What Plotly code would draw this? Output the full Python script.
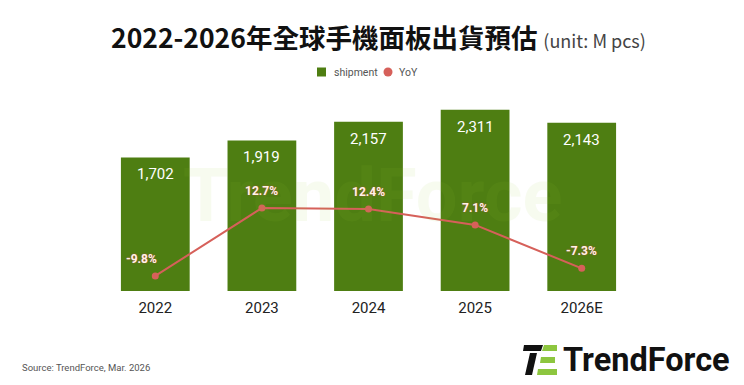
import plotly.graph_objects as go

years = ["2022", "2023", "2024", "2025", "2026E"]
shipment = [1702, 1919, 2157, 2311, 2143]
yoy = [-9.8, 12.7, 12.4, 7.1, -7.3]
shipment_labels = ["1,702", "1,919", "2,157", "2,311", "2,143"]
yoy_labels = ["-9.8%", "12.7%", "12.4%", "7.1%", "-7.3%"]
yoy_label_xshift = [-14, 0, 0, 0, 0]   # label placement (style)

# page is offset by the browser's 8px body margin
OFF = 8
PAGE_W, PAGE_H = 744, 385
W, H = PAGE_W - 2 * OFF, PAGE_H - 2 * OFF
PL, PR, PT, PB = 102, 635, 87, 291          # plot area in page pixels
ML, MR, MT, MB = PL - OFF, OFF + W - PR, PT - OFF, OFF + H - PB
PW, PH = PR - PL, PB - PT

def px(x):
    return (x - PL) / PW

def py(y):
    return (PB - y) / PH

BAR = "#4E7E12"
RED = "#D6605A"

fig = go.Figure()
fig.add_trace(go.Bar(
    x=years, y=shipment, name="shipment", marker=dict(color=BAR, line=dict(width=0)),
    hoverinfo="skip", showlegend=False))
fig.add_trace(go.Scatter(
    x=years, y=yoy, yaxis="y2", mode="lines+markers", name="YoY", showlegend=False,
    line=dict(color=RED, width=2), marker=dict(color=RED, size=7)))

annotations = []
# watermark (drawn first so labels sit over it)
annotations.append(dict(
    x=px(372), y=py(195), xref="paper", yref="paper", showarrow=False,
    text="<b>TrendForce</b>", opacity=0.07,
    font=dict(family="Roboto", size=74, color="#9acd32")))
for i, (v, t) in enumerate(zip(shipment, shipment_labels)):
    annotations.append(dict(x=i, y=v, xref="x", yref="y", text=t, showarrow=False,
                            yanchor="top", yshift=-6,
                            font=dict(family="Roboto", size=15, color="#ffffff")))
for i, (v, t) in enumerate(zip(yoy, yoy_labels)):
    annotations.append(dict(x=i, y=v, xref="x", yref="y2", text="<b>" + t + "</b>", showarrow=False,
                            yanchor="bottom", yshift=8, xshift=yoy_label_xshift[i],
                            font=dict(family="Roboto", size=12, color="#fff3e8",
                                      shadow="0px 0px 1.5px #c8453f")))

# title
annotations.append(dict(
    x=px(378), y=py(36), xref="paper", yref="paper", showarrow=False,
    xanchor="center", yanchor="middle",
    text="<b>2022-2026年全球手機面板出貨預估</b> <span style='font-size:18px;color:#444'>(unit: M pcs)</span>",
    font=dict(family="Noto Sans CJK TC", size=26.5, color="#111111")))
# legend (manual)
annotations.append(dict(
    x=px(332), y=py(72), xref="paper", yref="paper", showarrow=False,
    xanchor="left", yanchor="middle", text="shipment",
    font=dict(family="Roboto", size=10.5, color="#555555")))
annotations.append(dict(
    x=px(397), y=py(72), xref="paper", yref="paper", showarrow=False,
    xanchor="left", yanchor="middle", text="YoY",
    font=dict(family="Roboto", size=10.5, color="#555555")))
# source
annotations.append(dict(
    x=px(20), y=py(367), xref="paper", yref="paper", showarrow=False,
    xanchor="left", yanchor="middle", text="Source: TrendForce, Mar. 2026",
    font=dict(family="Roboto", size=9.5, color="#555555")))
# logo text
annotations.append(dict(
    x=px(732), y=py(360), xref="paper", yref="paper", showarrow=False,
    xanchor="right", yanchor="middle", text="<b>TrendForce</b>",
    font=dict(family="Roboto", size=32.5, color="#111111")))

shapes = []
def poly(pts, color, dx=0):
    d = "M " + " L ".join(f"{px(a + dx)},{py(b)}" for a, b in pts) + " Z"
    shapes.append(dict(type="path", path=d, xref="paper", yref="paper",
                       fillcolor=color, line=dict(width=0)))
# legend symbols
poly([(317, 67.5), (326, 67.5), (326, 76.5), (317, 76.5)], BAR)
shapes.append(dict(type="circle", xref="paper", yref="paper",
                   x0=px(383.5), x1=px(392.5), y0=py(76.5), y1=py(67.5),
                   fillcolor=RED, line=dict(width=0)))
# logo icon (black T + green F)
LD = 3
poly([(521, 345), (540, 345), (538, 351), (520, 351)], "#111111", LD)
poly([(527, 353), (534, 353), (529, 375), (522, 375)], "#111111", LD)
poly([(541, 345), (554, 345), (554, 351), (539, 351)], "#8DC63F", LD)
poly([(538, 357), (552, 357), (552, 363), (537, 363)], "#8DC63F", LD)
poly([(535, 369), (554, 369), (554, 375), (534, 375)], "#8DC63F", LD)

fig.update_layout(
    width=W, height=H, margin=dict(l=ML, r=MR, t=MT, b=MB),
    paper_bgcolor="white", plot_bgcolor="white",
    bargap=0.355,
    font=dict(family="Roboto", color="#333333"),
    xaxis=dict(type="category", showgrid=False, showline=False, zeroline=False, ticks="",
               tickfont=dict(family="Roboto", size=15, color="#222222"),
               ticklabelstandoff=6, range=[-0.5, 4.5]),
    yaxis=dict(range=[0, 2600], visible=False, showgrid=False, zeroline=False),
    yaxis2=dict(range=[-14.8, 52.8], overlaying="y", visible=False, showgrid=False, zeroline=False),
    annotations=annotations, shapes=shapes, showlegend=False,
)
fig.write_html("out.html")
